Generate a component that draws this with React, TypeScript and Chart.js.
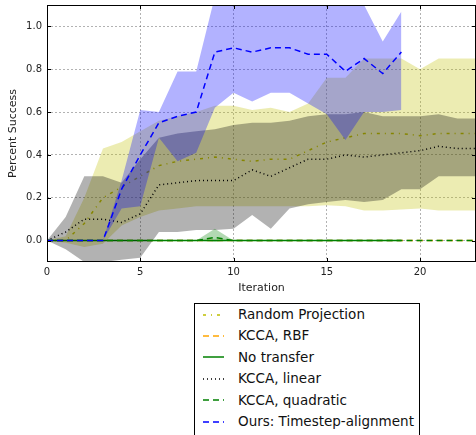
import React, { useEffect, useRef } from "react";
import { Chart, registerables } from "chart.js";

Chart.register(...registerables);

const iterations = [0, 1, 2, 3, 4, 5, 6, 7, 8, 9, 10, 11, 12, 13, 14, 15, 16, 17, 18, 19, 20, 21, 22, 23];
const xTicks = [0, 5, 10, 15, 20];
const yTicks = [0, 0.2, 0.4, 0.6, 0.8, 1.0];

// Random Projection
const randMean = [0, 0.0, 0.08, 0.2, 0.25, 0.3, 0.35, 0.37, 0.38, 0.39, 0.38, 0.37, 0.38, 0.38, 0.42, 0.46, 0.48, 0.5, 0.5, 0.5, 0.49, 0.5, 0.5, 0.5];
const randUpper = [0, 0.02, 0.2, 0.43, 0.46, 0.51, 0.56, 0.58, 0.6, 0.63, 0.63, 0.61, 0.62, 0.6, 0.64, 0.76, 0.76, 0.85, 0.85, 0.85, 0.8, 0.85, 0.85, 0.85];
const randLower = [0, -0.01, -0.03, -0.015, 0.07, 0.11, 0.14, 0.15, 0.16, 0.16, 0.16, 0.16, 0.16, 0.16, 0.16, 0.165, 0.16, 0.14, 0.14, 0.145, 0.15, 0.14, 0.14, 0.14];

// KCCA, RBF
const rbfMean = [0, 0, 0, 0, 0, 0, 0, 0, 0, 0, 0, 0, 0, 0, 0, 0, 0, 0, 0, 0, 0, 0, 0, 0];

// No transfer
const noTransferMean = [0, 0, 0, 0, 0, 0, 0, 0, 0, 0, 0, 0, 0, 0, 0, 0, 0, 0, 0, 0];

// KCCA, linear
const linMean = [0, 0.04, 0.1, 0.1, 0.085, 0.125, 0.26, 0.27, 0.28, 0.28, 0.28, 0.33, 0.3, 0.34, 0.38, 0.38, 0.4, 0.39, 0.4, 0.41, 0.42, 0.44, 0.43, 0.43];
const linUpper = [0, 0.11, 0.3, 0.3, 0.27, 0.38, 0.48, 0.5, 0.51, 0.52, 0.54, 0.55, 0.55, 0.56, 0.58, 0.59, 0.59, 0.6, 0.58, 0.58, 0.58, 0.59, 0.57, 0.57];
const linLower = [0, -0.04, -0.1, -0.1, -0.09, -0.08, 0.04, 0.04, 0.05, 0.05, 0.055, 0.12, 0.055, 0.15, 0.17, 0.18, 0.19, 0.18, 0.19, 0.24, 0.24, 0.3, 0.3, 0.3];

// KCCA, quadratic
const quadMean = [0, 0, 0, 0, 0, 0, 0, 0, 0, 0.015, 0, 0, 0, 0, 0, 0, 0, 0, 0, 0, 0, 0, 0, 0];
const quadUpper = [0, 0, 0, 0, 0, 0, 0, 0, 0, 0.055, 0, 0, 0, 0, 0, 0, 0, 0, 0, 0, 0, 0, 0, 0];
const quadLower = [0, 0, 0, 0, 0, 0, 0, 0, 0, -0.005, 0, 0, 0, 0, 0, 0, 0, 0, 0, 0, 0, 0, 0, 0];

// Ours: Timestep-alignment
const oursMean = [0, 0, 0, 0, 0.24, 0.4, 0.55, 0.58, 0.6, 0.88, 0.9, 0.88, 0.9, 0.9, 0.87, 0.87, 0.79, 0.85, 0.78, 0.88];
const oursUpper = [0, 0, 0, 0, 0.28, 0.61, 0.6, 0.79, 0.79, 1.14, 1.2, 1.2, 1.2, 1.2, 1.1, 1.11, 1.1, 1.1, 0.93, 1.07];
const oursLower = [0, 0, 0, 0, 0.15, 0.16, 0.48, 0.37, 0.41, 0.62, 0.69, 0.65, 0.69, 0.69, 0.64, 0.59, 0.47, 0.6, 0.6, 0.61];

const FONT = "'DejaVu Sans', sans-serif";

const toPoints = (arr: number[]) => arr.map((y, i) => ({ x: iterations[i], y }));

const legendItems = [
  { label: "Random Projection", color: "#bfbf00", dash: "3 5 1 5", width: 1.5 },
  { label: "KCCA, RBF", color: "#ffa500", dash: "6 4", width: 1.5 },
  { label: "No transfer", color: "#008000", dash: "", width: 1.5 },
  { label: "KCCA, linear", color: "#000000", dash: "1 3", width: 1.5 },
  { label: "KCCA, quadratic", color: "#008000", dash: "6 4", width: 1.5 },
  { label: "Ours: Timestep-alignment", color: "#0000ff", dash: "6 4", width: 1.5 },
];

const framePlugin = {
  id: "frame",
  afterDraw(chart: any) {
    const { ctx, chartArea } = chart;
    const { left, right, top, bottom } = chartArea;
    ctx.save();
    ctx.strokeStyle = "#000";
    ctx.lineWidth = 1;
    ctx.setLineDash([]);
    ctx.strokeRect(left + 0.5, top + 0.5, right - left - 1, bottom - top - 1);
    const xs = chart.scales.x;
    const ys = chart.scales.y;
    ctx.beginPath();
    xTicks.forEach((v) => {
      const px = Math.round(xs.getPixelForValue(v)) + 0.5;
      ctx.moveTo(px, bottom);
      ctx.lineTo(px, bottom - 4);
      ctx.moveTo(px, top);
      ctx.lineTo(px, top + 4);
    });
    yTicks.forEach((v) => {
      const py = Math.round(ys.getPixelForValue(v)) + 0.5;
      ctx.moveTo(left, py);
      ctx.lineTo(left + 4, py);
      ctx.moveTo(right, py);
      ctx.lineTo(right - 4, py);
    });
    ctx.stroke();
    ctx.restore();
  },
};

export default function App() {
  const canvasRef = useRef<HTMLCanvasElement | null>(null);

  useEffect(() => {
    document.body.style.margin = "0";
    document.body.style.overflow = "hidden";
    if (!canvasRef.current) return;

    const band = (upper: number[], lower: number[], color: string, order: number) => [
      {
        data: toPoints(upper),
        borderWidth: 0,
        pointRadius: 0,
        backgroundColor: color,
        borderColor: "transparent",
        fill: "+1",
        order,
      },
      {
        data: toPoints(lower),
        borderWidth: 0,
        pointRadius: 0,
        borderColor: "transparent",
        fill: false,
        order,
      },
    ];

    const line = (arr: number[], color: string, dash: number[], order: number) => ({
      data: toPoints(arr),
      borderColor: color,
      borderWidth: 1.5,
      borderDash: dash,
      pointRadius: 0,
      fill: false,
      tension: 0,
      order,
    });

    const datasets: any[] = [
      ...band(randUpper, randLower, "rgba(191,191,0,0.3)", 20),
      line(randMean, "#bfbf00", [3, 5, 1, 5], 19),
      line(rbfMean, "#ffa500", [6, 4], 18),
      line(noTransferMean, "#008000", [], 17),
      ...band(linUpper, linLower, "rgba(0,0,0,0.3)", 16),
      line(linMean, "#000000", [1, 3], 15),
      ...band(quadUpper, quadLower, "rgba(0,128,0,0.3)", 14),
      line(quadMean, "#008000", [6, 4], 13),
      ...band(oursUpper, oursLower, "rgba(0,0,255,0.3)", 12),
      line(oursMean, "#0000ff", [6, 4], 11),
    ];

    const chart = new Chart(canvasRef.current, {
      type: "line",
      data: { datasets },
      plugins: [framePlugin],
      options: {
        animation: false,
        responsive: true,
        maintainAspectRatio: false,
        layout: { padding: { top: 5, left: 0, right: 0, bottom: 0 } },
        plugins: {
          legend: { display: false },
          tooltip: { enabled: false },
        },
        scales: {
          x: {
            type: "linear",
            min: 0,
            max: 23,
            afterBuildTicks: (s: any) => {
              s.ticks = xTicks.map((v) => ({ value: v }));
            },
            afterFit: (s: any) => {
              s.height = 38;
              s.paddingLeft = 0;
              s.paddingRight = 0;
            },
            ticks: {
              font: { family: FONT, size: 10 },
              color: "#222",
              padding: 4,
              maxRotation: 0,
              callback: (v: any) => String(v),
            },
            grid: { color: "rgba(0,0,0,0.3)", drawTicks: false },
            border: { display: false, dash: [2, 2] },
            title: {
              display: true,
              text: "Iteration",
              font: { family: FONT, size: 11 },
              color: "#222",
              padding: { top: 0, bottom: 5 },
            },
          },
          y: {
            type: "linear",
            min: -0.1,
            max: 1.1,
            afterBuildTicks: (s: any) => {
              s.ticks = yTicks.map((v) => ({ value: v }));
            },
            afterFit: (s: any) => {
              s.width = 47;
              s.paddingTop = 0;
              s.paddingBottom = 0;
            },
            ticks: {
              font: { family: FONT, size: 10 },
              color: "#222",
              padding: 5,
              callback: (v: any) => Number(v).toFixed(1),
            },
            grid: { color: "rgba(0,0,0,0.3)", drawTicks: false },
            border: { display: false, dash: [2, 2] },
            title: {
              display: true,
              text: "Percent Success",
              font: { family: FONT, size: 11 },
              color: "#222",
              padding: { top: 7, bottom: 0 },
            },
          },
        },
      },
    });
    return () => chart.destroy();
  }, []);

  return (
    <div style={{ position: "relative", width: 476, height: 435, overflow: "hidden", background: "#fff" }}>
      <div style={{ position: "absolute", left: 0, top: 0, width: 476, height: 300 }}>
        <canvas ref={canvasRef} />
      </div>
      <div
        style={{
          position: "absolute",
          left: 194,
          top: 303,
          width: 224,
          height: 140,
          border: "1px solid #000",
          background: "#fff",
          fontFamily: FONT,
          fontSize: 13.5,
          color: "#111",
        }}
      >
        {legendItems.map((it, i) => (
          <div
            key={it.label}
            style={{ position: "absolute", left: 0, top: i * 21.4, height: 21.4, width: "100%" }}
          >
            <svg width={22} height={8} style={{ position: "absolute", left: 8, top: 6.7 }}>
              <line
                x1={0}
                y1={4}
                x2={21}
                y2={4}
                stroke={it.color}
                strokeWidth={it.width}
                strokeDasharray={it.dash || undefined}
              />
            </svg>
            <span style={{ position: "absolute", left: 43, top: 0, whiteSpace: "nowrap", lineHeight: "21.4px" }}>{it.label}</span>
          </div>
        ))}
      </div>
    </div>
  );
}
